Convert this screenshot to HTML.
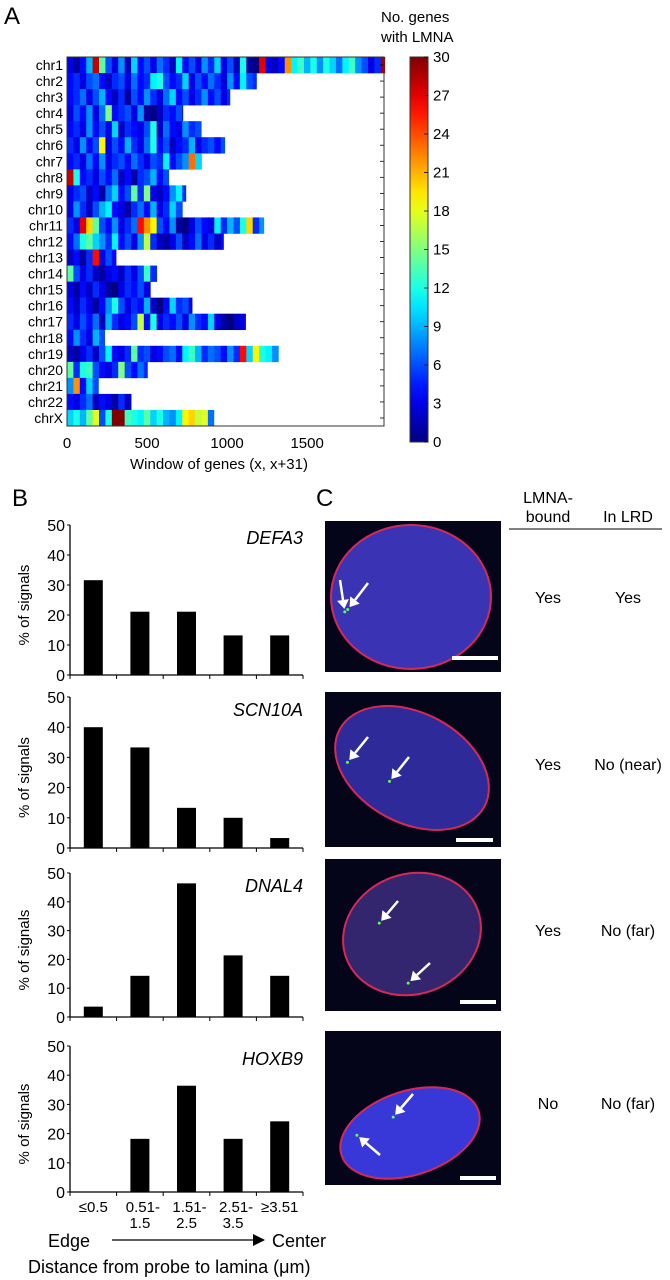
<!DOCTYPE html>
<html><head><meta charset="utf-8">
<style>
html,body{margin:0;padding:0;background:#fff;}
svg{display:block;font-family:"Liberation Sans",Arial,sans-serif;}
</style></head>
<body>
<svg id="fig" width="670" height="1280" viewBox="0 0 670 1280">
<text x="4" y="24" font-size="24">A</text>
<text x="12" y="506" font-size="24">B</text>
<text x="316" y="506" font-size="24">C</text>
<g id="heat"></g>
<g id="cbar"></g>
<g id="bars"></g>
<g id="micro">
  <text x="548" y="503" font-size="16" text-anchor="middle">LMNA-</text>
  <text x="548" y="522" font-size="16" text-anchor="middle">bound</text>
  <text x="628" y="522" font-size="16" text-anchor="middle">In LRD</text>
  <line x1="509" y1="529" x2="662" y2="529" stroke="#000" stroke-width="1"/>
</g>
</svg>
<script>
const NS="http://www.w3.org/2000/svg";
function mk(tag,attrs,parent){const e=document.createElementNS(NS,tag);for(const k in attrs)e.setAttribute(k,attrs[k]);parent.appendChild(e);return e;}

// ---------- Heatmap data ----------
const chromNames=["chr1","chr2","chr3","chr4","chr5","chr6","chr7","chr8","chr9","chr10","chr11","chr12","chr13","chr14","chr15","chr16","chr17","chr18","chr19","chr20","chr21","chr22","chrX"];
const chromLengths=[1985,1183,1017,723,838,985,848,635,742,729,1229,977,306,563,531,781,1115,235,1325,502,196,400,917];
const binSize=40;
const chromValues=[
[3,1,4,9,28,14,6,3,8,2,10,4,6,3,7,5,2,11,4,6,3,8,5,10,3,6,2,12,1,0,27,3,2,4,22,11,13,9,12,8,12,10,7,11,13,8,6,3,5,29],
[4,5,3,6,7,4,2,5,6,3,7,4,5,11,12,6,4,5,10,3,6,4,7,5,3,8,4,11,6,5],
[4,5,7,3,6,9,4,2,5,1,6,4,8,5,3,7,10,4,6,3,5,8,4,6,3,5],
[3,6,4,8,3,7,15,4,5,6,3,8,1,0,2,5,4,6,3],
[4,5,3,8,4,6,3,10,2,5,4,3,6,12,2,7,4,3,8,5,6],
[5,3,8,4,6,19,3,6,4,9,5,3,7,12,4,6,2,4,5,9,3,5,6,4,6],
[4,5,3,7,4,8,3,5,6,4,7,5,3,6,5,11,4,6,8,23,10],
[28,12,4,5,3,6,4,7,2,4,1,5,6,9,4,6],
[3,5,6,2,4,1,7,10,4,6,14,5,15,3,2,4,8,11,5],
[3,8,5,2,6,9,11,4,3,1,5,7,4,9,3,5,10,6],
[5,3,27,20,14,6,4,8,3,5,7,26,22,19,6,4,8,1,0,3,6,4,3,11,5,9,6,12,20,5,8],
[4,7,12,14,10,8,5,11,4,6,3,8,17,5,2,1,3,6,2,4,7,3,5,2,4],
[2,4,1,5,26,3,6,4],
[14,6,3,5,2,1,3,4,2,5,3,6,13,5],
[3,1,4,2,5,3,1,0,3,5,4,6,3],
[4,2,5,3,1,4,8,12,6,3,5,4,9,2,0,4,10,5,6,3],
[5,3,6,4,7,2,9,5,3,4,6,17,4,12,3,5,4,6,3,8,5,4,10,3,1,0,2,3],
[4,8,5,3,9,6],
[2,1,3,5,2,6,11,4,3,5,14,5,6,3,4,6,7,4,11,13,9,5,7,6,4,8,5,26,10,19,12,11,8],
[14,5,12,13,6,4,3,5,15,6,4,7,5],
[8,22,4,10,6],
[4,3,5,7,2,4,3,1,5,2],
[10,12,9,14,18,6,12,30,30,13,12,11,14,10,12,9,8,11,19,20,17,18,7]
];
const xTicks=[0,500,1000,1500];
const cbarTicks=[0,3,6,9,12,15,18,21,24,27,30];

function jet(v){const t=Math.max(0,Math.min(1,v/30));
  const f=x=>Math.max(0,Math.min(1,x));
  const r=f(1.5-Math.abs(4*t-3)),g=f(1.5-Math.abs(4*t-2)),b=f(1.5-Math.abs(4*t-1));
  return `rgb(${Math.round(r*255)},${Math.round(g*255)},${Math.round(b*255)})`;}

const H={left:67,right:384,top:57,bottom:426,xmax:1980};
const hx=u=>H.left+u/H.xmax*(H.right-H.left);
const rowH=(H.bottom-H.top)/chromNames.length;
const heat=document.getElementById('heat');
chromNames.forEach((nm,i)=>{
  const y=H.top+i*rowH;
  chromValues[i].forEach((v,j)=>{
    const u0=j*binSize,u1=Math.min((j+1)*binSize,chromLengths[i]);
    const r=mk('rect',{x:hx(u0),y:y,width:Math.max(0,hx(u1)-hx(u0))+0.4,height:rowH+0.3,fill:jet(v)},heat);
    
    
  });
  const t=mk('text',{x:63,y:y+rowH/2+5,'font-size':14,'text-anchor':'end'},heat);t.textContent=nm;
  
  
  const tk=mk('line',{x1:H.right-4,x2:H.right,y1:y+rowH/2,y2:y+rowH/2,stroke:'#000','stroke-width':0.8},heat);
  
  
});
const frame=mk('rect',{x:H.left,y:H.top,width:H.right-H.left,height:H.bottom-H.top,fill:'none',stroke:'#333','stroke-width':1},heat);


xTicks.forEach(v=>{
  const t=mk('text',{x:hx(v),y:448,'font-size':15,'text-anchor':'middle'},heat);t.textContent=v;
  
  
});
const xl=mk('text',{x:219,y:469,'font-size':15,'text-anchor':'middle'},heat);xl.textContent='Window of genes (x, x+31)';



// colorbar
const cb=document.getElementById('cbar');
const C={x:410,w:18,top:57,bottom:442};
const defs=mk('defs',{},cb);
const lg=mk('linearGradient',{id:'jetg',x1:0,y1:1,x2:0,y2:0},defs);
for(let i=0;i<=20;i++){mk('stop',{offset:i/20,'stop-color':jet(i*1.5)},lg);}
const cbr=mk('rect',{x:C.x,y:C.top,width:C.w,height:C.bottom-C.top,fill:'url(#jetg)',stroke:'#333','stroke-width':1},cb);


cbarTicks.forEach(v=>{
  const y=C.bottom-v/30*(C.bottom-C.top);
  mk('line',{x1:C.x+C.w-4,x2:C.x+C.w,y1:y,y2:y,stroke:'#000','stroke-width':0.8},cb);
  const t=mk('text',{x:C.x+C.w+5,y:y+5,'font-size':15},cb);t.textContent=v;
  
  
});
const ct1=mk('text',{x:381,y:22,'font-size':15},cb);ct1.textContent='No. genes';


const ct2=mk('text',{x:381,y:42,'font-size':15},cb);ct2.textContent='with LMNA';



// ---------- Bar charts ----------
const distCats=["≤0.5","0.51-1.5","1.51-2.5","2.51-3.5","≥3.51"];
const geneNames=["DEFA3","SCN10A","DNAL4","HOXB9"];
const defa3=[31.6,21.1,21.1,13.2,13.2];
const scn10a=[40,33.3,13.3,10,3.3];
const dnal4=[3.6,14.3,46.4,21.4,14.3];
const hoxb9=[0,18.2,36.4,18.2,24.2];
const seriesList=[defa3,scn10a,dnal4,hoxb9];
const yTicks=[0,10,20,30,40,50];
const frames=[[525,675],[697,848],[873,1017],[1046,1192]];
const B={left:70,right:303,barW:19};
const bars=document.getElementById('bars');
seriesList.forEach((vals,ci)=>{
  const [top,zero]=frames[ci];
  const ys=v=>zero-v/50*(zero-top);
  const bw=(B.right-B.left)/distCats.length;
  const g=mk('g',{},bars);
  
  
  mk('line',{x1:B.left,x2:B.left,y1:top,y2:zero,stroke:'#000','stroke-width':1.3},g);
  mk('line',{x1:B.left,x2:B.right,y1:zero,y2:zero,stroke:'#000','stroke-width':1.3},g);
  yTicks.forEach(v=>{
    mk('line',{x1:B.left-3,x2:B.left,y1:ys(v),y2:ys(v),stroke:'#000'},g);
    const t=mk('text',{x:B.left-5,y:ys(v)+6,'font-size':16,'text-anchor':'end'},g);t.textContent=v;
    
    
  });
  for(let k=0;k<=distCats.length;k++){mk('line',{x1:B.left+k*bw,x2:B.left+k*bw,y1:zero,y2:zero+4,stroke:'#000'},g);}
  vals.forEach((v,k)=>{
    const cx=B.left+(k+0.5)*bw;
    const r=mk('rect',{x:cx-B.barW/2,y:ys(v),width:B.barW,height:zero-ys(v),fill:'#000'},g);
    
    
  });
  const yt=mk('text',{transform:`translate(29,${(top+zero)/2+5}) rotate(-90)`,'font-size':15,'text-anchor':'middle'},g);yt.textContent='% of signals';
  
  
  const gn=mk('text',{x:B.right,y:top+19,'font-size':18,'font-style':'italic','text-anchor':'end'},g);gn.textContent=geneNames[ci];
  
  
  if(ci===3){
    distCats.forEach((c,k)=>{
      const cx=B.left+(k+0.5)*bw;
      const parts=c.includes('-')&&!c.startsWith('≤')?[c.split('-')[0]+'-',c.split('-')[1]]:[c];
      parts.forEach((p,pi)=>{
        const t=mk('text',{x:cx+(pi===0&&parts.length>1?3:0),y:1212+pi*16,'font-size':15,'text-anchor':'middle'},g);t.textContent=p;
        
        
      });
    });
  }
});
const e1=mk('text',{x:48,y:1247,'font-size':18},bars);e1.textContent='Edge';


mk('line',{x1:112,x2:255,y1:1240,y2:1240,stroke:'#000','stroke-width':1.2},bars);
mk('polygon',{points:'253,1234 265,1240 253,1246',fill:'#000'},bars);
const e2=mk('text',{x:272,y:1247,'font-size':18},bars);e2.textContent='Center';


const e3=mk('text',{x:28,y:1273,'font-size':18},bars);e3.textContent='Distance from probe to lamina (μm)';



// ---------- Microscopy panels ----------
const micro=document.getElementById('micro');
const panels=[
 {y0:521,y1:672,cx:411,cy:597,rx:80,ry:72,rot:0,fill:'#3a34b4',yes:'Yes',lrd:'Yes',ty:603,arrows:[[340,580,343,600],[368,583,355,600]],bar:[452,656,498]},
 {y0:692,y1:847,cx:412,cy:768,rx:82,ry:55,rot:28,fill:'#2e2a9a',yes:'Yes',lrd:'No (near)',ty:770,arrows:[[368,737,355,753],[409,757,397,772]],bar:[456,838,493]},
 {y0:859,y1:1011,cx:412,cy:934,rx:70,ry:60,rot:-20,fill:'#33256e',yes:'Yes',lrd:'No (far)',ty:936,arrows:[[398,901,387,914],[430,963,417,975]],bar:[460,1000,496]},
 {y0:1031,y1:1185,cx:410,cy:1133,rx:72,ry:42,rot:-18,fill:'#3838d8',yes:'No',lrd:'No (far)',ty:1109,arrows:[[413,1094,401,1108],[380,1155,366,1143]],bar:[460,1176,496]}
];
panels.forEach((p,i)=>{
  const g=mk('g',{},micro);
  
  
  mk('rect',{x:325,y:p.y0,width:176,height:p.y1-p.y0,fill:'#05051a'},g);
  mk('ellipse',{cx:p.cx,cy:p.cy,rx:p.rx,ry:p.ry,transform:`rotate(${p.rot} ${p.cx} ${p.cy})`,fill:p.fill,stroke:'#d8285a','stroke-width':2},g);
  p.arrows.forEach(a=>{
    mk('line',{x1:a[0],y1:a[1],x2:a[2],y2:a[3],stroke:'#fff','stroke-width':2.5},g);
    const dx=a[2]-a[0],dy=a[3]-a[1],L=Math.hypot(dx,dy),ux=dx/L,uy=dy/L;
    const tx=a[2]+ux*9,ty=a[3]+uy*9;
    mk('polygon',{points:`${tx},${ty} ${a[2]-uy*6},${a[3]+ux*6} ${a[2]+uy*6},${a[3]-ux*6}`,fill:'#fff'},g);
    mk('circle',{cx:tx+ux*3,cy:ty+uy*3,r:1.5,fill:'#5f5'},g);
  });
  mk('rect',{x:p.bar[0],y:p.bar[1],width:p.bar[2]-p.bar[0],height:4,fill:'#fff'},g);
  const t1=mk('text',{x:548,y:p.ty,'font-size':16,'text-anchor':'middle'},micro);t1.textContent=p.yes;
  
  
  const t2=mk('text',{x:628,y:p.ty,'font-size':16,'text-anchor':'middle'},micro);t2.textContent=p.lrd;
  
  
});
</script>
</body></html>
